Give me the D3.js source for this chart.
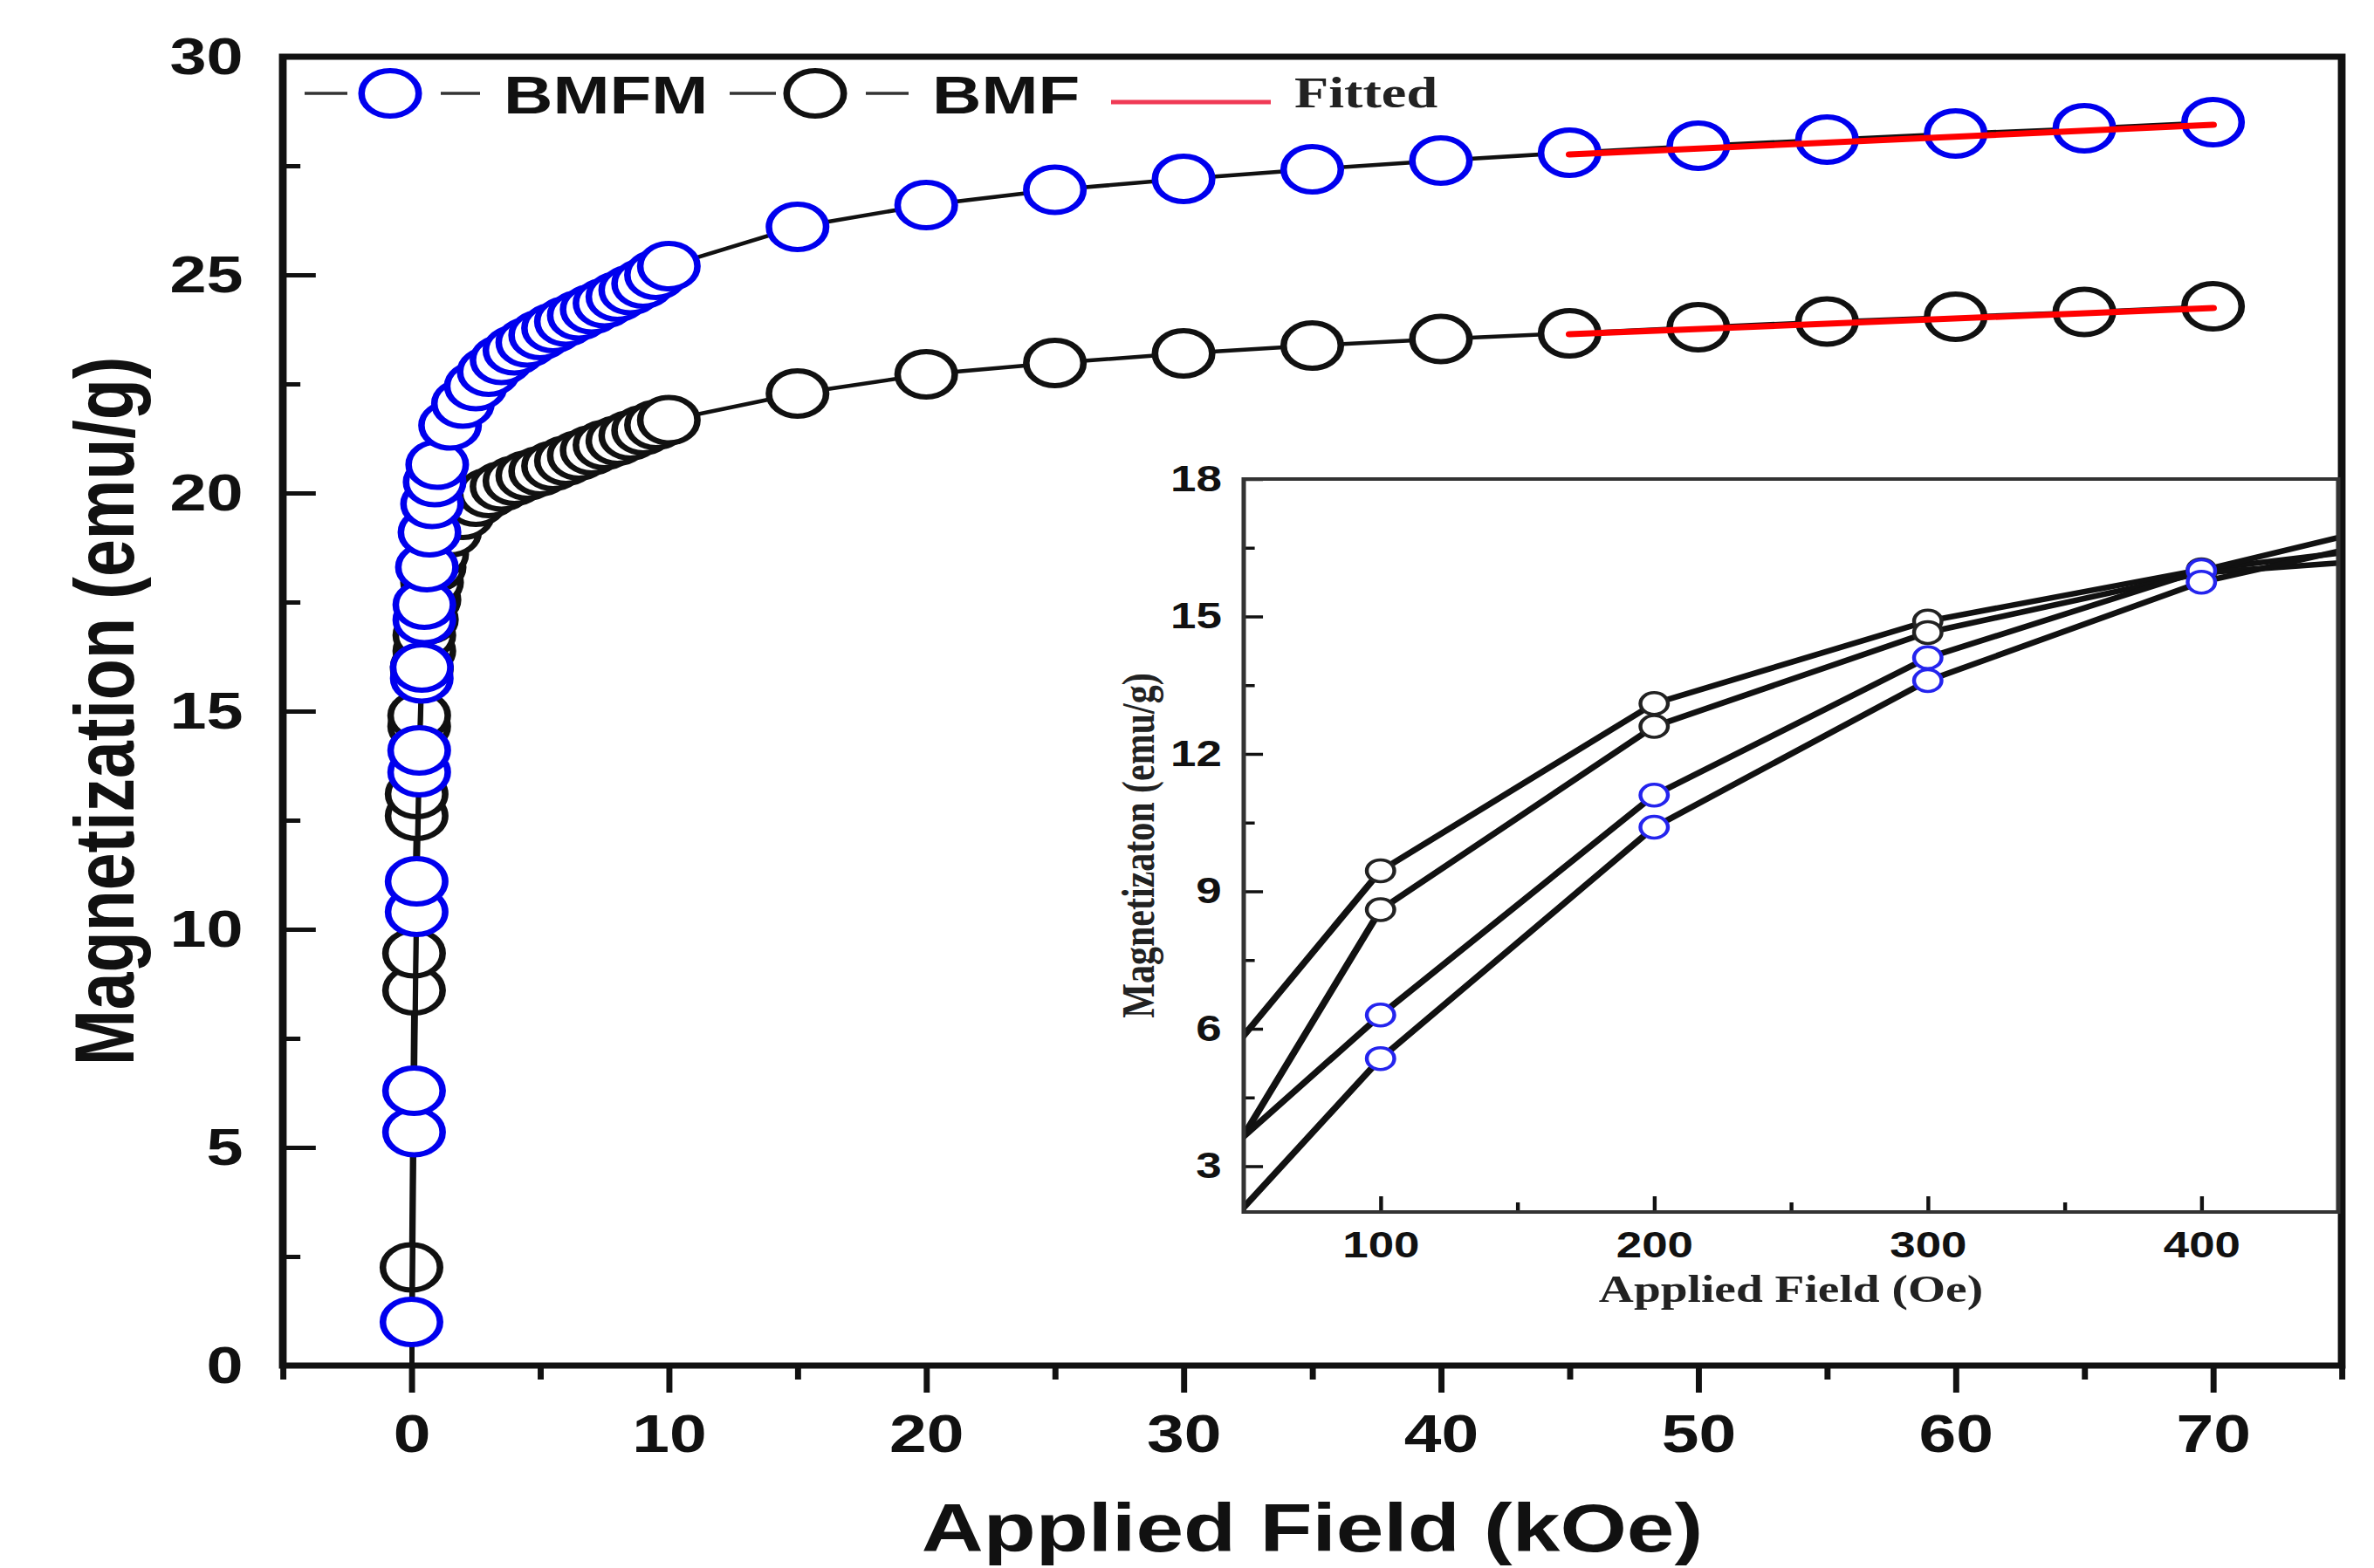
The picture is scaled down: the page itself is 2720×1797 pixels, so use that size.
<!DOCTYPE html>
<html><head><meta charset="utf-8">
<script src="https://cdn.jsdelivr.net/npm/d3@7"></script>
<style>html,body{margin:0;padding:0;background:#fff;} svg{display:block;}</style>
</head><body>
<svg id="chart" width="2720" height="1797"></svg>
<script>
// ---------- DATA ----------
// Low-field points (Oe) – two branches of each loop (also shown in the inset)
const lowFieldOe  = [0, 100, 200, 300, 400, 500];
const bmfmAscLow  = [-1.15, 5.35, 10.4, 13.6, 15.75, 17.09];
const bmfmDescLow = [1.0, 6.3, 11.1, 14.1, 16.0, 17.44];
const bmfAscLow   = [-1.26, 8.6, 12.6, 14.65, 15.95, 16.38];
const bmfDescLow  = [2.25, 9.45, 13.1, 14.9, 16.02, 16.74];

// Higher-field points (kOe)
const highFieldKOe = [0.6, 0.7, 0.8, 0.9, 1.0, 1.5, 2.0, 2.5, 3.0, 3.5, 4.0, 4.5, 5.0, 5.5, 6.0, 6.5, 7.0, 7.5, 8.0, 8.5, 9.0, 9.5, 10,
                      15, 20, 25, 30, 35, 40, 45, 50, 55, 60, 65, 70];
const bmfmHigh = [18.3, 19.1, 19.75, 20.25, 20.65, 21.55, 22.05, 22.45, 22.78, 23.05, 23.27, 23.45, 23.62, 23.78, 23.93, 24.07, 24.21, 24.35, 24.5, 24.65, 24.8, 25.0, 25.2,
                  26.1, 26.6, 26.95, 27.2, 27.42, 27.62, 27.8, 27.96, 28.1, 28.24, 28.36, 28.5];
const bmfHigh  = [17.1, 17.55, 17.95, 18.3, 18.6, 19.1, 19.5, 19.8, 20.0, 20.15, 20.28, 20.4, 20.5, 20.62, 20.74, 20.86, 20.98, 21.1, 21.2, 21.32, 21.44, 21.56, 21.67,
                  22.28, 22.72, 22.98, 23.2, 23.38, 23.53, 23.66, 23.8, 23.93, 24.04, 24.15, 24.28];

// Linear fits (kOe)
const fitFieldKOe = [45, 70];
const fitBMFM = [27.76, 28.44];
const fitBMF  = [23.64, 24.24];

// Ticks
const xMajorTicks = [0, 10, 20, 30, 40, 50, 60, 70];
const xMinorTicks = [-5, 5, 15, 25, 35, 45, 55, 65, 75];
const yMajorTicks = [0, 5, 10, 15, 20, 25, 30];
const yMinorTicks = [2.5, 7.5, 12.5, 17.5, 22.5, 27.5];
const insetXMajor = [100, 200, 300, 400];
const insetXMinor = [50, 150, 250, 350, 450];
const insetYMajor = [3, 6, 9, 12, 15, 18];
const insetYMinor = [4.5, 7.5, 10.5, 13.5, 16.5];

const legendLabels = ["BMFM", "BMF", "Fitted"];

// ---------- STYLE ----------
const BLUE = "#0000ee", BLACK = "#111", RED = "#ff0000";
const SANS = "'Liberation Sans', Arial, sans-serif";
const SERIF = "'Liberation Serif', 'Times New Roman', serif";
const SX = 1.26;               // the original figure is stretched horizontally
const ux = v => v / SX;

const svg = d3.select("#chart");
svg.append("rect").attr("width", 2720).attr("height", 1797).attr("fill", "#fff");
const root = svg.append("g").attr("transform", `scale(${SX},1)`);

// ---------- MAIN SCALES ----------
const M = {left: ux(324), right: ux(2683), top: 65, bottom: 1565};
const x = d3.scaleLinear().domain([-5, 75]).range([M.left, M.right]);
const y = d3.scaleLinear().domain([0, 30]).range([M.bottom, M.top]);

root.append("clipPath").attr("id", "mainClip").append("rect")
  .attr("x", M.left).attr("y", M.top).attr("width", M.right - M.left).attr("height", M.bottom - M.top);

const zip = (xs, ys, f = v => v) => xs.map((v, i) => [f(v), ys[i]]);
const kOe = v => v / 1000;

function series(lowAsc, lowDesc, high) {
  const asc = zip(lowFieldOe, lowAsc, kOe).concat(zip(highFieldKOe, high));
  const desc = zip(lowFieldOe, lowDesc, kOe).concat([[highFieldKOe[0], high[0]]]);
  const pts = zip(lowFieldOe, lowAsc, kOe).concat(zip(lowFieldOe, lowDesc, kOe), zip(highFieldKOe, high));
  return {asc, desc, pts};
}
const sBMF = series(bmfAscLow, bmfDescLow, bmfHigh);
const sBMFM = series(bmfmAscLow, bmfmDescLow, bmfmHigh);

const line = d3.line().x(d => x(d[0])).y(d => y(d[1]));
const plot = root.append("g").attr("clip-path", "url(#mainClip)");

function drawSeries(s, color) {
  plot.append("path").attr("d", line(s.asc)).attr("fill", "none").attr("stroke", BLACK).attr("stroke-width", 4.5);
  plot.append("path").attr("d", line(s.desc)).attr("fill", "none").attr("stroke", BLACK).attr("stroke-width", 4.5);
  plot.append("g").selectAll("circle").data(s.pts).join("circle")
    .attr("cx", d => x(d[0])).attr("cy", d => y(d[1])).attr("r", 26)
    .attr("fill", "#fff").attr("stroke", color).attr("stroke-width", 6);
}
drawSeries(sBMF, BLACK);
drawSeries(sBMFM, BLUE);

[fitBMFM, fitBMF].forEach(f => {
  plot.append("path").attr("d", line(zip(fitFieldKOe, f))).attr("fill", "none")
    .attr("stroke", RED).attr("stroke-width", 7).attr("stroke-linecap", "round");
});

// ---------- MAIN AXES ----------
function styleAxis(g, fs, family, sw) {
  g.select(".domain").remove();
  g.selectAll(".tick line").attr("stroke", BLACK).attr("stroke-width", sw);
  g.selectAll(".tick text").attr("fill", BLACK).attr("font-size", fs).attr("font-family", family).attr("font-weight", "bold");
}
root.append("g").attr("transform", `translate(0,${M.bottom})`)
  .call(d3.axisBottom(x).tickValues(xMajorTicks).tickSize(31).tickPadding(25).tickFormat(d3.format("d")))
  .call(g => styleAxis(g, 61, SANS, 5.5));
root.append("g").attr("transform", `translate(0,${M.bottom})`)
  .call(d3.axisBottom(x).tickValues(xMinorTicks).tickSize(16).tickFormat(""))
  .call(g => styleAxis(g, 61, SANS, 5.5));
root.append("g").attr("transform", `translate(${M.left},0)`)
  .call(d3.axisLeft(y).tickValues(yMajorTicks).tickSize(-30).tickPadding(36).tickFormat(d3.format("d")))
  .call(g => styleAxis(g, 60, SANS, 5));
root.append("g").attr("transform", `translate(${M.left},0)`)
  .call(d3.axisLeft(y).tickValues(yMinorTicks).tickSize(-16).tickFormat(""))
  .call(g => styleAxis(g, 60, SANS, 5));

root.append("rect").attr("x", M.left).attr("y", M.top).attr("width", M.right - M.left).attr("height", M.bottom - M.top)
  .attr("fill", "none").attr("stroke", BLACK).attr("stroke-width", 7);

root.append("text").attr("x", (M.left + M.right) / 2).attr("y", 1778).attr("text-anchor", "middle")
  .attr("font-family", SANS).attr("font-weight", "bold").attr("font-size", 78).attr("fill", BLACK)
  .text("Applied Field (kOe)");
root.append("text").attr("transform", `translate(${ux(153)},${(M.top + M.bottom) / 2}) rotate(-90)`)
  .attr("text-anchor", "middle").attr("font-family", SANS).attr("font-weight", "bold").attr("font-size", 77).attr("fill", BLACK)
  .text("Magnetization (emu/g)");

// ---------- LEGEND ----------
const leg = root.append("g");
const legY = 107;
[[349, 398, 447, 505, 550, 577, BLUE], [836, 889, 934, 992, 1041, 1068, BLACK]].forEach((p, i) => {
  leg.append("line").attr("x1", ux(p[0])).attr("x2", ux(p[1])).attr("y1", legY).attr("y2", legY).attr("stroke", "#333").attr("stroke-width", 3.5);
  leg.append("line").attr("x1", ux(p[3])).attr("x2", ux(p[4])).attr("y1", legY).attr("y2", legY).attr("stroke", "#333").attr("stroke-width", 3.5);
  leg.append("circle").attr("cx", ux(p[2])).attr("cy", legY).attr("r", 26).attr("fill", "#fff").attr("stroke", p[6]).attr("stroke-width", 6);
  leg.append("text").attr("x", ux(p[5])).attr("y", 130).attr("font-family", SANS).attr("font-weight", "bold")
    .attr("font-size", 62).attr("fill", BLACK).text(legendLabels[i]);
});
leg.append("line").attr("x1", ux(1273)).attr("x2", ux(1456)).attr("y1", 117).attr("y2", 117).attr("stroke", "#f03a55").attr("stroke-width", 5);
leg.append("text").attr("x", ux(1483)).attr("y", 123).attr("font-family", SERIF).attr("font-weight", "bold")
  .attr("font-size", 51).attr("fill", "#222").text(legendLabels[2]);

// ---------- INSET ----------
const I = {left: ux(1425), right: ux(2679), top: 549, bottom: 1389};
const xi = d3.scaleLinear().domain([50, 450]).range([I.left, I.right]);
const yi = d3.scaleLinear().domain([2, 18]).range([I.bottom, I.top]);
const inset = root.append("g");
inset.append("rect").attr("x", I.left).attr("y", I.top).attr("width", I.right - I.left).attr("height", I.bottom - I.top).attr("fill", "#fff");
inset.append("clipPath").attr("id", "insetClip").append("rect")
  .attr("x", I.left).attr("y", I.top).attr("width", I.right - I.left).attr("height", I.bottom - I.top);
const ip = inset.append("g").attr("clip-path", "url(#insetClip)");
const iline = d3.line().x(d => xi(d[0])).y(d => yi(d[1]));
[bmfDescLow, bmfAscLow, bmfmDescLow, bmfmAscLow].forEach(vals => {
  ip.append("path").attr("d", iline(zip(lowFieldOe, vals))).attr("fill", "none").attr("stroke", BLACK).attr("stroke-width", 6.5);
});
[[bmfDescLow, "#222"], [bmfAscLow, "#222"], [bmfmDescLow, "#2424ee"], [bmfmAscLow, "#2424ee"]].forEach(([vals, c]) => {
  ip.append("g").selectAll("circle").data(zip(lowFieldOe, vals).filter(d => d[0] >= 50 && d[0] <= 450)).join("circle")
    .attr("cx", d => xi(d[0])).attr("cy", d => yi(d[1])).attr("r", 12.5)
    .attr("fill", "#fff").attr("stroke", c).attr("stroke-width", 3.5);
});
inset.append("g").attr("transform", `translate(0,${I.bottom})`)
  .call(d3.axisBottom(xi).tickValues(insetXMajor).tickSize(-18).tickPadding(22).tickFormat(d3.format("d")))
  .call(g => styleAxis(g, 42, SANS, 3.5));
inset.append("g").attr("transform", `translate(0,${I.bottom})`)
  .call(d3.axisBottom(xi).tickValues(insetXMinor).tickSize(-11).tickFormat(""))
  .call(g => styleAxis(g, 42, SANS, 3.5));
inset.append("g").attr("transform", `translate(${I.left},0)`)
  .call(d3.axisLeft(yi).tickValues(insetYMajor).tickSize(-17.5).tickPadding(20).tickFormat(d3.format("d")))
  .call(g => styleAxis(g, 42, SANS, 3.5));
inset.append("g").attr("transform", `translate(${I.left},0)`)
  .call(d3.axisLeft(yi).tickValues(insetYMinor).tickSize(-10).tickFormat(""))
  .call(g => styleAxis(g, 42, SANS, 3.5));
inset.append("rect").attr("x", I.left).attr("y", I.top).attr("width", I.right - I.left).attr("height", I.bottom - I.top)
  .attr("fill", "none").attr("stroke", "#333").attr("stroke-width", 4);
inset.append("text").attr("x", (I.left + I.right) / 2).attr("y", 1492).attr("text-anchor", "middle")
  .attr("font-family", SERIF).attr("font-weight", "bold").attr("font-size", 44).attr("fill", "#222")
  .text("Applied Field (Oe)");
inset.append("text").attr("transform", `translate(${ux(1322)},${(I.top + I.bottom) / 2}) rotate(-90)`)
  .attr("text-anchor", "middle").attr("font-family", SERIF).attr("font-weight", "bold").attr("font-size", 42).attr("fill", "#222")
  .text("Magnetizaton (emu/g)");
</script>
</body></html>
